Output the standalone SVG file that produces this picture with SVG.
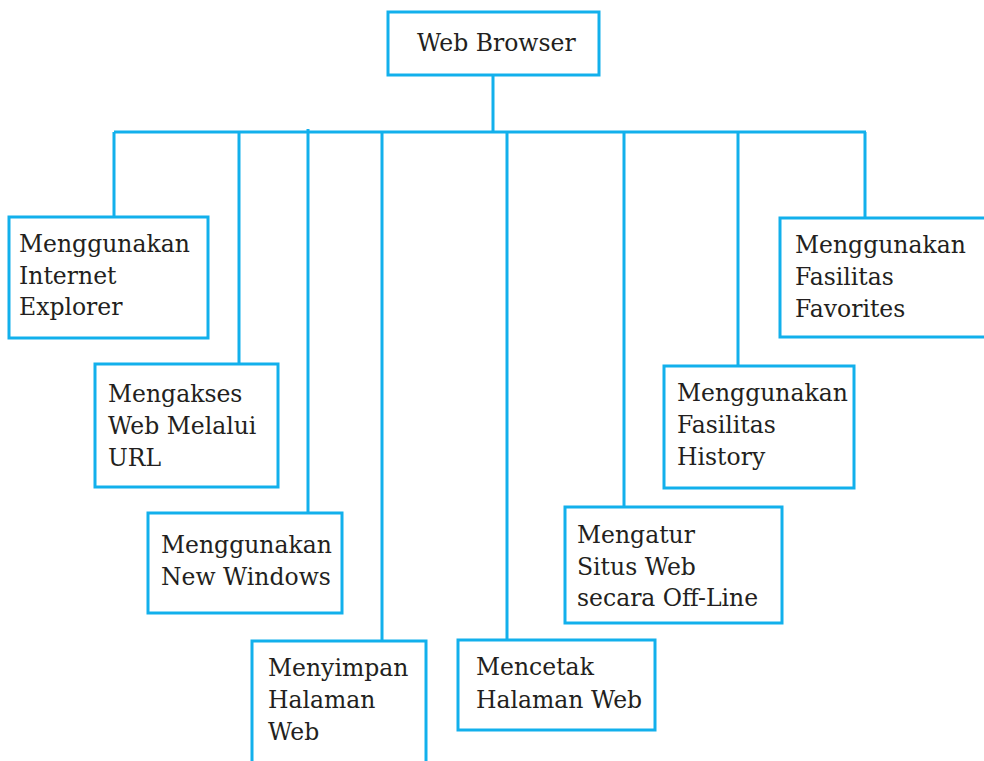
<svg xmlns="http://www.w3.org/2000/svg" width="984" height="761" viewBox="0 0 984 761">
<style>
.box{fill:#fff;stroke:#12b0ec;stroke-width:3}
.con{fill:none;stroke:#12b0ec;stroke-width:3}
text{font-family:"DejaVu Serif","Liberation Serif",serif;font-size:23.5px;fill:#231f20}
</style>
<rect width="984" height="761" fill="#fff"/>
<g id="connectors">
<path class="con" d="M493,75V132M114,132H866M114,132V217M239,132V364M308,129V513M382,132V641M507,132V640M624,132V507M738,132V366M865,132V218"/>
</g>
<g id="root"><rect class="box" x="388" y="12" width="211" height="63"/><text x="417" y="51">Web Browser</text></g>
<g id="n1"><rect class="box" x="9" y="217" width="199" height="121"/><text x="19" y="252">Menggunakan</text><text x="19" y="283.5">Internet</text><text x="19" y="315">Explorer</text></g>
<g id="n2"><rect class="box" x="95" y="364" width="183" height="123"/><text x="108" y="402">Mengakses</text><text x="108" y="433.5">Web Melalui</text><text x="108" y="465.5">URL</text></g>
<g id="n3"><rect class="box" x="148" y="513" width="194" height="100"/><text x="161" y="553">Menggunakan</text><text x="161" y="585">New Windows</text></g>
<g id="n4"><rect class="box" x="252" y="641" width="174" height="130"/><text x="268" y="676">Menyimpan</text><text x="268" y="707.5">Halaman</text><text x="268" y="740">Web</text></g>
<g id="n5"><rect class="box" x="458" y="640" width="197" height="90"/><text x="476" y="675">Mencetak</text><text x="476" y="707.5">Halaman Web</text></g>
<g id="n6"><rect class="box" x="565" y="507" width="217" height="116"/><text x="577" y="543">Mengatur</text><text x="577" y="574.5">Situs Web</text><text x="577" y="606">secara Off-Line</text></g>
<g id="n7"><rect class="box" x="664" y="366" width="190" height="122"/><text x="677" y="401">Menggunakan</text><text x="677" y="432.5">Fasilitas</text><text x="677" y="465">History</text></g>
<g id="n8"><rect class="box" x="780" y="218" width="215" height="119"/><text x="795" y="253">Menggunakan</text><text x="795" y="285">Fasilitas</text><text x="795" y="317">Favorites</text></g>
</svg>
